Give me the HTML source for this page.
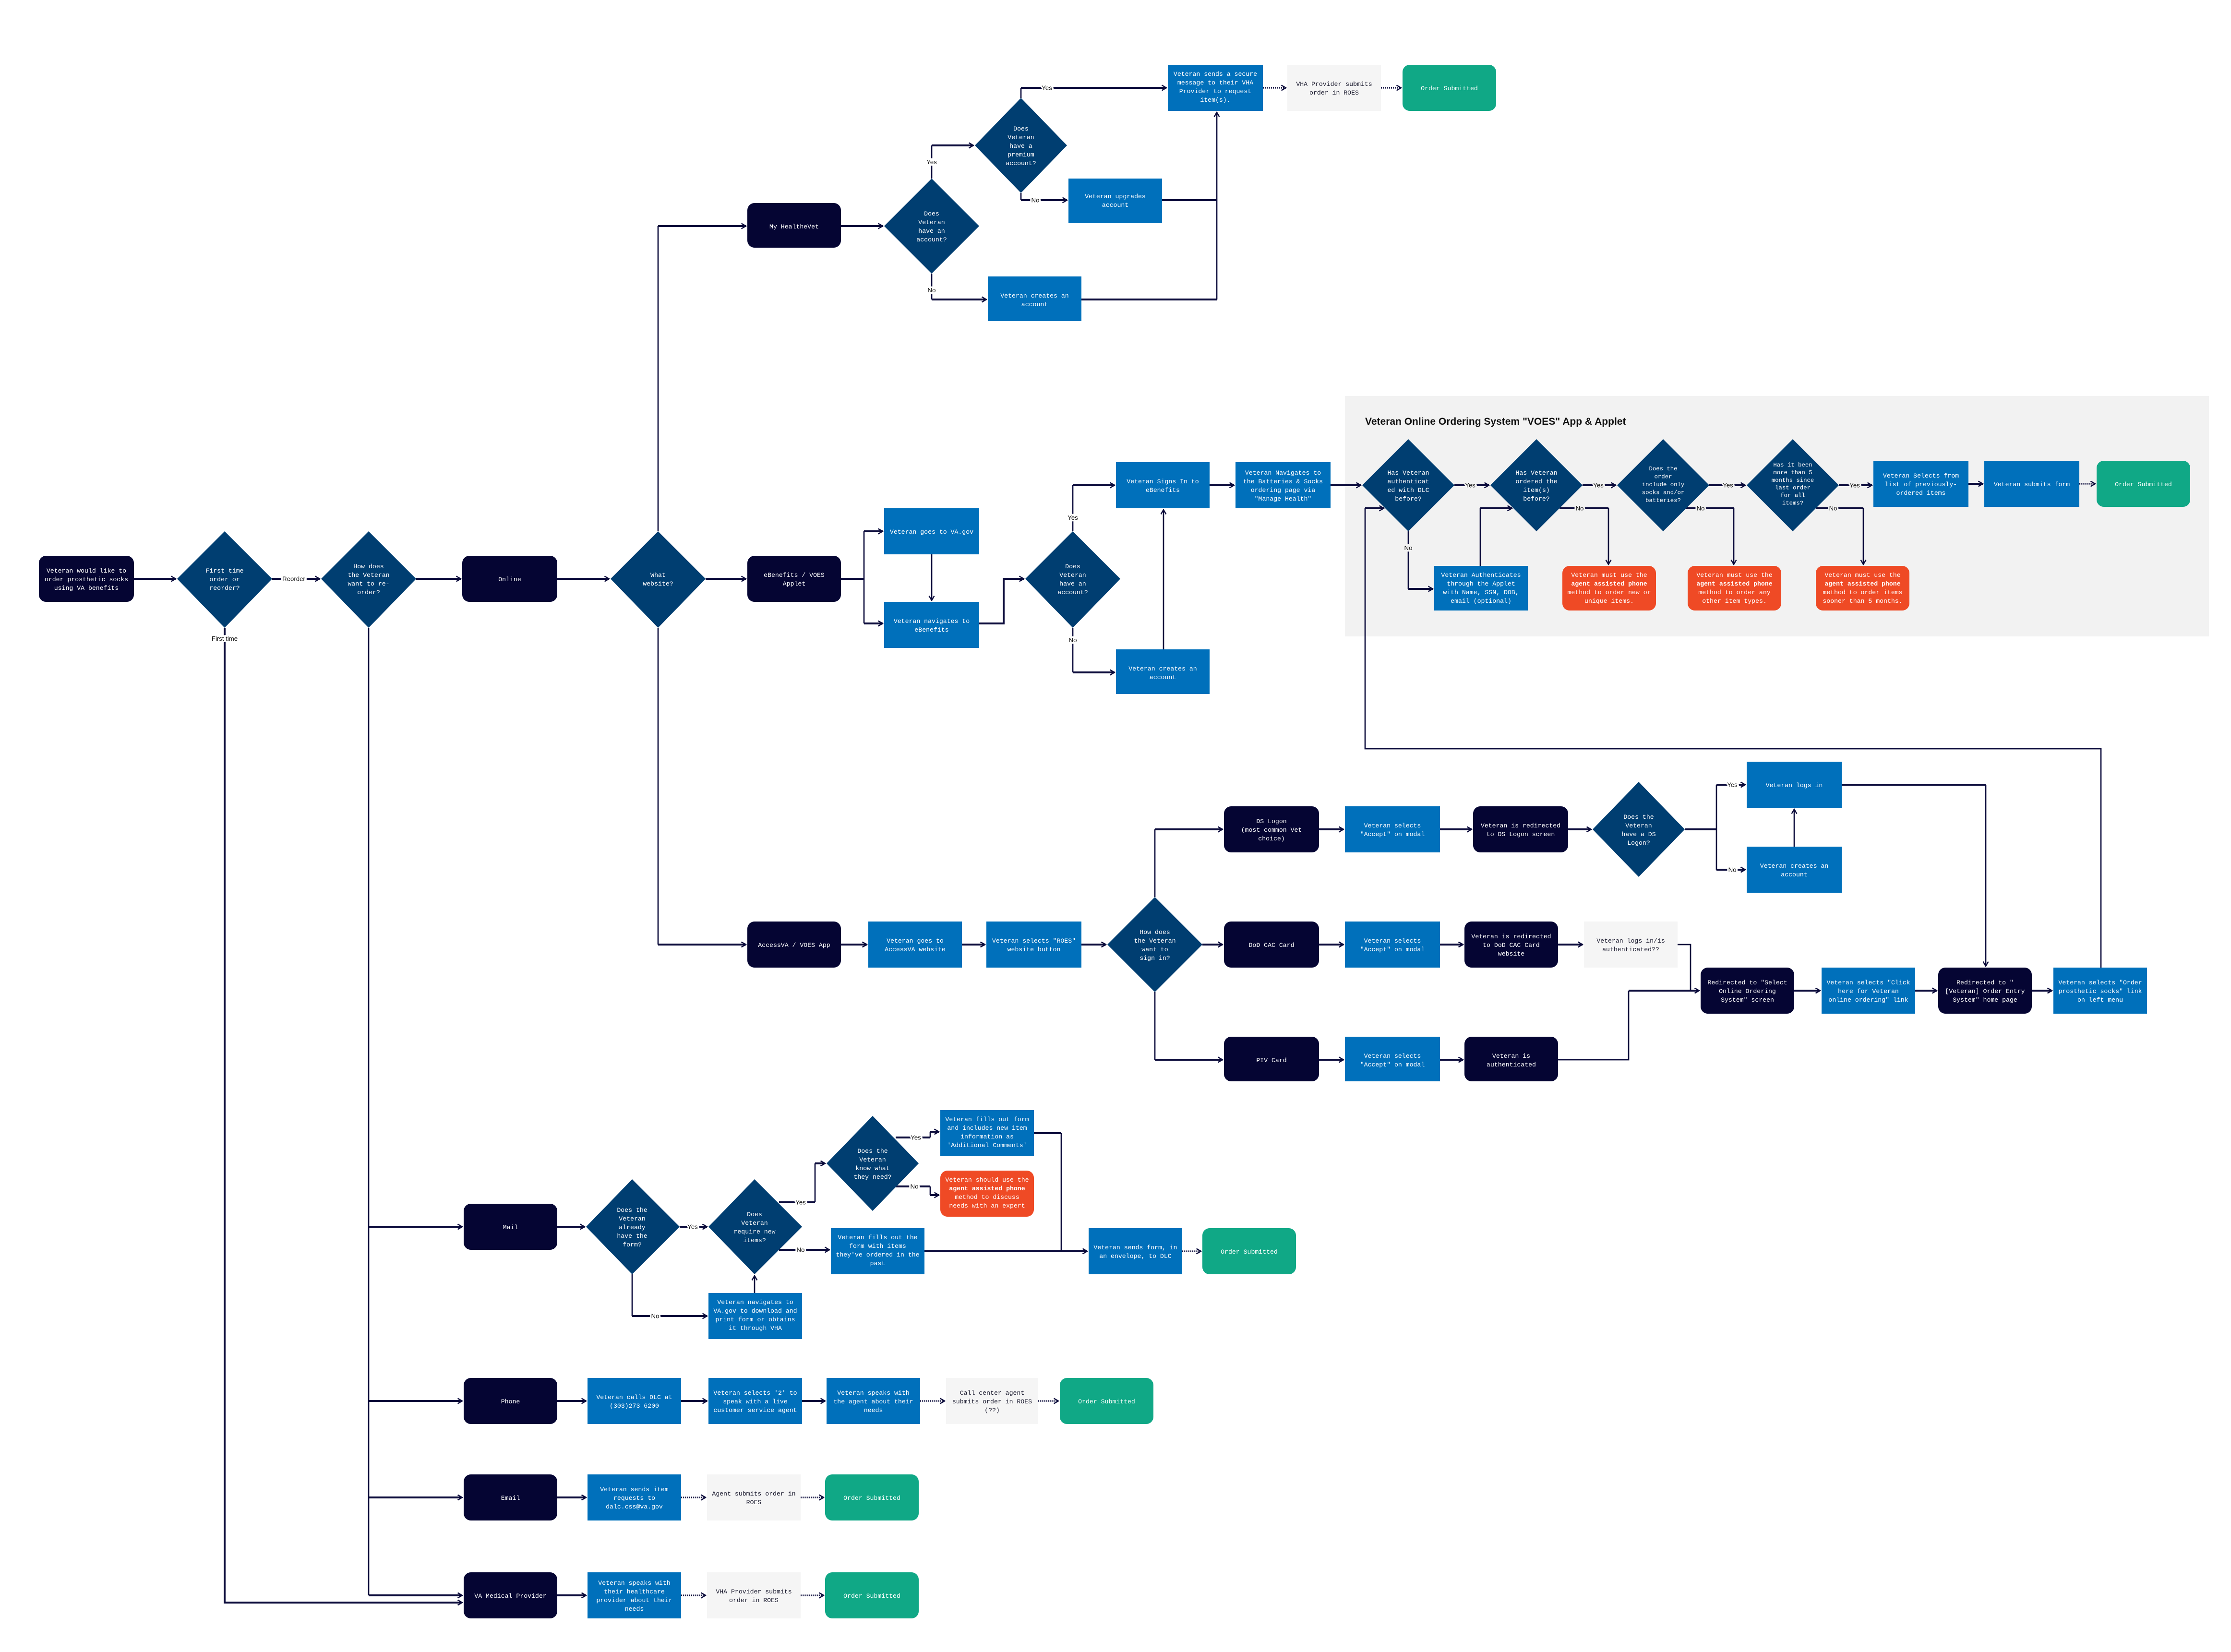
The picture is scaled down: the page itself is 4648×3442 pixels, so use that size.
<!DOCTYPE html>
<html><head><meta charset="utf-8"><style>
html,body{margin:0;padding:0;background:#fff;}
svg{display:block;}
.t{font-family:"Liberation Mono",monospace;font-size:4.4px;fill:#fff;text-anchor:middle;}
.k{fill:#1a1a2e;}
.b{font-weight:bold;}
.l{font-family:"Liberation Sans",sans-serif;font-size:4.4px;fill:#111;text-anchor:middle;stroke:#fff;stroke-width:2.2px;paint-order:stroke;}
.lp{stroke:#f2f2f2;}
.c{fill:none;stroke:#0b0b3b;stroke-width:0.9;}
.ct{fill:none;stroke:#0b0b3b;stroke-width:1.3;}
.dt{fill:none;stroke:#0b0b3b;stroke-width:1.1;stroke-dasharray:0.7 0.7;}
</style></head><body>
<svg width="4648" height="3442" viewBox="0 0 1549.33 1147.33" preserveAspectRatio="none" xmlns="http://www.w3.org/2000/svg">
<defs><marker id="a" viewBox="0 0 10 10" refX="9" refY="5" markerWidth="4.5" markerHeight="4.5" markerUnits="userSpaceOnUse" orient="auto"><path d="M2,1 L9,5 L2,9" fill="none" stroke="#0b0b3b" stroke-width="1.8"/></marker></defs>
<rect width="1549.33" height="1147.33" fill="#fff"/>
<!-- VOES panel -->
<rect x="934" y="275" width="600" height="167" fill="#f2f2f2"/>
<text x="948" y="295" font-family="Liberation Sans,sans-serif" font-size="7" font-weight="bold" fill="#111">Veteran Online Ordering System "VOES" App &amp; Applet</text>

<!-- connectors -->
<g>
<path class="ct" d="M93,402H122" marker-end="url(#a)"/>
<path class="ct" d="M189,402H222" marker-end="url(#a)"/>
<path class="ct" d="M289,402H320" marker-end="url(#a)"/>
<path class="ct" d="M387,402H423" marker-end="url(#a)"/>
<path class="ct" d="M156,436V1113H321" marker-end="url(#a)"/>
<path class="c" d="M256,436V1108"/>
<path class="ct" d="M256,852H321" marker-end="url(#a)"/>
<path class="ct" d="M256,973H321" marker-end="url(#a)"/>
<path class="ct" d="M256,1040H321" marker-end="url(#a)"/>
<path class="ct" d="M256,1108H321" marker-end="url(#a)"/>
<path class="c" d="M457,369V157"/><path class="ct" d="M457,157H518" marker-end="url(#a)"/>
<path class="ct" d="M490,402H518" marker-end="url(#a)"/>
<path class="c" d="M457,436V656"/><path class="ct" d="M457,656H518" marker-end="url(#a)"/>
<!-- MyHealtheVet -->
<path class="ct" d="M584,157H613" marker-end="url(#a)"/>
<path class="c" d="M647,124V101"/><path class="ct" d="M647,101H676" marker-end="url(#a)"/>
<path class="c" d="M709,68V61"/><path class="ct" d="M709,61H810" marker-end="url(#a)"/>
<path class="c" d="M709,134V139"/><path class="ct" d="M709,139H741" marker-end="url(#a)"/>
<path class="c" d="M647,190V208"/><path class="ct" d="M647,208H685" marker-end="url(#a)"/>
<path class="ct" d="M807,139H845"/><path class="ct" d="M751,208H845"/>
<path class="c" d="M845,208V78" marker-end="url(#a)"/>
<path class="dt" d="M877,61H893" marker-end="url(#a)"/>
<path class="dt" d="M959,61H973" marker-end="url(#a)"/>
<!-- eBenefits -->
<path class="ct" d="M584,402H600"/>
<path class="c" d="M600,369V433"/>
<path class="ct" d="M600,369H613" marker-end="url(#a)"/>
<path class="ct" d="M600,433H613" marker-end="url(#a)"/>
<path class="c" d="M647,385V417" marker-end="url(#a)"/>
<path class="ct" d="M680,433H697V402H711" marker-end="url(#a)"/>
<path class="c" d="M745,369V337"/><path class="ct" d="M745,337H774" marker-end="url(#a)"/>
<path class="c" d="M745,436V467"/><path class="ct" d="M745,467H774" marker-end="url(#a)"/>
<path class="c" d="M808,451V354" marker-end="url(#a)"/>
<path class="ct" d="M840,337H857" marker-end="url(#a)"/>
<path class="ct" d="M924,337H945" marker-end="url(#a)"/>
<!-- VOES -->
<path class="ct" d="M1010,337H1034" marker-end="url(#a)"/>
<path class="ct" d="M1099,337H1122" marker-end="url(#a)"/>
<path class="ct" d="M1187,337H1212" marker-end="url(#a)"/>
<path class="ct" d="M1277,337H1300" marker-end="url(#a)"/>
<path class="ct" d="M1367,336H1377" marker-end="url(#a)"/>
<path class="dt" d="M1444,336H1455" marker-end="url(#a)"/>
<path class="c" d="M978,369V409"/><path class="ct" d="M978,409H995" marker-end="url(#a)"/>
<path class="c" d="M1028,393V353"/><path class="ct" d="M1028,353H1050" marker-end="url(#a)"/>
<path class="ct" d="M1083,353H1117"/><path class="c" d="M1117,353V392" marker-end="url(#a)"/>
<path class="ct" d="M1171,353H1204"/><path class="c" d="M1204,353V392" marker-end="url(#a)"/>
<path class="ct" d="M1261,353H1294"/><path class="c" d="M1294,353V392" marker-end="url(#a)"/>
<path class="c" d="M1459,672V520H948V353"/><path class="ct" d="M948,353H961" marker-end="url(#a)"/>
<!-- AccessVA -->
<path class="ct" d="M584,656H602" marker-end="url(#a)"/>
<path class="ct" d="M668,656H684" marker-end="url(#a)"/>
<path class="ct" d="M751,656H768" marker-end="url(#a)"/>
<path class="c" d="M802,623V576"/><path class="ct" d="M802,576H849" marker-end="url(#a)"/>
<path class="ct" d="M835,656H849" marker-end="url(#a)"/>
<path class="c" d="M802,689V736"/><path class="ct" d="M802,736H849" marker-end="url(#a)"/>
<path class="ct" d="M916,576H933" marker-end="url(#a)"/>
<path class="ct" d="M916,656H933" marker-end="url(#a)"/>
<path class="ct" d="M916,736H933" marker-end="url(#a)"/>
<path class="ct" d="M1000,576H1022" marker-end="url(#a)"/>
<path class="ct" d="M1000,656H1016" marker-end="url(#a)"/>
<path class="ct" d="M1000,736H1016" marker-end="url(#a)"/>
<path class="ct" d="M1089,576H1105" marker-end="url(#a)"/>
<path class="ct" d="M1082,656H1099" marker-end="url(#a)"/>
<path class="ct" d="M1170,576H1192"/><path class="c" d="M1192,545V604"/>
<path class="ct" d="M1192,545H1212" marker-end="url(#a)"/>
<path class="ct" d="M1192,604H1212" marker-end="url(#a)"/>
<path class="c" d="M1246,588V562" marker-end="url(#a)"/>
<path class="ct" d="M1279,545H1379"/><path class="c" d="M1379,545V671" marker-end="url(#a)"/>
<path class="c" d="M1165,656H1174V688"/>
<path class="c" d="M1082,736H1131V688"/><path class="ct" d="M1131,688H1180" marker-end="url(#a)"/>
<path class="ct" d="M1246,688H1264" marker-end="url(#a)"/>
<path class="ct" d="M1330,688H1345" marker-end="url(#a)"/>
<path class="ct" d="M1411,688H1425" marker-end="url(#a)"/>
<!-- Mail -->
<path class="ct" d="M387,852H406" marker-end="url(#a)"/>
<path class="ct" d="M472,852H491" marker-end="url(#a)"/>
<path class="c" d="M439,885V914"/><path class="ct" d="M439,914H491" marker-end="url(#a)"/>
<path class="c" d="M524,898V886" marker-end="url(#a)"/>
<path class="ct" d="M541,835H566"/><path class="c" d="M566,835V808"/><path class="ct" d="M566,808H573" marker-end="url(#a)"/>
<path class="ct" d="M622,790H646"/><path class="c" d="M646,790V786"/><path class="ct" d="M646,786H652" marker-end="url(#a)"/>
<path class="ct" d="M622,824H646"/><path class="c" d="M646,824V830"/><path class="ct" d="M646,830H652" marker-end="url(#a)"/>
<path class="ct" d="M541,868H576" marker-end="url(#a)"/>
<path class="ct" d="M642,869H755" marker-end="url(#a)"/>
<path class="ct" d="M718,787H737"/><path class="c" d="M737,787V869"/>
<path class="dt" d="M821,869H834" marker-end="url(#a)"/>
<!-- Phone / Email / VA -->
<path class="ct" d="M387,973H407" marker-end="url(#a)"/>
<path class="ct" d="M473,973H491" marker-end="url(#a)"/>
<path class="ct" d="M557,973H573" marker-end="url(#a)"/>
<path class="dt" d="M639,973H656" marker-end="url(#a)"/>
<path class="dt" d="M721,973H735" marker-end="url(#a)"/>
<path class="ct" d="M387,1040H407" marker-end="url(#a)"/>
<path class="dt" d="M473,1040H490" marker-end="url(#a)"/>
<path class="dt" d="M556,1040H572" marker-end="url(#a)"/>
<path class="ct" d="M387,1108H407" marker-end="url(#a)"/>
<path class="dt" d="M473,1108H490" marker-end="url(#a)"/>
<path class="dt" d="M556,1108H572" marker-end="url(#a)"/>
</g>

<!-- labels -->
<text class="l" x="204" y="403.5">Reorder</text>
<text class="l" x="156" y="445">First time</text>
<text class="l" x="647" y="114">Yes</text>
<text class="l" x="727" y="62.5">Yes</text>
<text class="l" x="719" y="140.5">No</text>
<text class="l" x="647" y="203">No</text>
<text class="l" x="745" y="361">Yes</text>
<text class="l" x="745" y="446">No</text>
<text class="l lp" x="1021" y="338.5">Yes</text>
<text class="l lp" x="1110" y="338.5">Yes</text>
<text class="l lp" x="1200" y="338.5">Yes</text>
<text class="l lp" x="1288" y="338.5">Yes</text>
<text class="l lp" x="978" y="382">No</text>
<text class="l lp" x="1097" y="354.5">No</text>
<text class="l lp" x="1181" y="354.5">No</text>
<text class="l lp" x="1273" y="354.5">No</text>
<text class="l" x="1203" y="546.5">Yes</text>
<text class="l" x="1203" y="605.5">No</text>
<text class="l" x="481" y="853.5">Yes</text>
<text class="l" x="455" y="915.5">No</text>
<text class="l" x="556" y="836.5">Yes</text>
<text class="l" x="556" y="869.5">No</text>
<text class="l" x="636" y="791.5">Yes</text>
<text class="l" x="635" y="825.5">No</text>

<!-- dark rounded boxes -->
<g fill="#050533">
<rect x="27" y="386" width="66" height="32" rx="5"/>
<rect x="321" y="386" width="66" height="32" rx="5"/>
<rect x="519" y="141" width="65" height="31" rx="5"/>
<rect x="519" y="386" width="65" height="32" rx="5"/>
<rect x="519" y="640" width="65" height="32" rx="5"/>
<rect x="850" y="560" width="66" height="32" rx="5"/>
<rect x="850" y="640" width="66" height="32" rx="5"/>
<rect x="850" y="720" width="66" height="31" rx="5"/>
<rect x="1023" y="560" width="66" height="32" rx="5"/>
<rect x="1017" y="640" width="65" height="32" rx="5"/>
<rect x="1017" y="720" width="65" height="31" rx="5"/>
<rect x="1181" y="672" width="65" height="32" rx="5"/>
<rect x="1346" y="672" width="65" height="32" rx="5"/>
<rect x="322" y="836" width="65" height="32" rx="5"/>
<rect x="322" y="957" width="65" height="32" rx="5"/>
<rect x="322" y="1024" width="65" height="32" rx="5"/>
<rect x="322" y="1092" width="65" height="32" rx="5"/>
</g>
<!-- diamonds -->
<g fill="#003e71">
<polygon points="156,369 189,402 156,436 123,402"/>
<polygon points="256,369 289,402 256,436 223,402"/>
<polygon points="457,369 490,402 457,436 424,402"/>
<polygon points="647,124 680,157 647,190 614,157"/>
<polygon points="709,68 741,101 709,134 677,101"/>
<polygon points="745,369 778,402 745,436 712,402"/>
<polygon points="978,305 1010,337 978,369 946,337"/>
<polygon points="1067,305 1099,337 1067,369 1035,337"/>
<polygon points="1155,305 1187,337 1155,369 1123,337"/>
<polygon points="1245,305 1277,337 1245,369 1213,337"/>
<polygon points="802,623 835,656 802,689 769,656"/>
<polygon points="1138,543 1170,576 1138,609 1106,576"/>
<polygon points="439,819 472,852 439,885 407,852"/>
<polygon points="524,819 557,852 524,885 492,852"/>
<polygon points="606,775 638,808 606,841 574,808"/>
</g>
<!-- blue boxes -->
<g fill="#0070bb">
<rect x="811" y="45" width="66" height="32"/>
<rect x="742" y="124" width="65" height="31"/>
<rect x="686" y="192" width="65" height="31"/>
<rect x="614" y="353" width="66" height="32"/>
<rect x="614" y="418" width="66" height="32"/>
<rect x="775" y="321" width="65" height="32"/>
<rect x="775" y="451" width="65" height="31"/>
<rect x="858" y="321" width="66" height="32"/>
<rect x="996" y="393" width="65" height="31"/>
<rect x="1301" y="320" width="66" height="32"/>
<rect x="1378" y="320" width="66" height="32"/>
<rect x="603" y="640" width="65" height="32"/>
<rect x="685" y="640" width="66" height="32"/>
<rect x="934" y="560" width="66" height="32"/>
<rect x="934" y="640" width="66" height="32"/>
<rect x="934" y="720" width="66" height="31"/>
<rect x="1213" y="529" width="66" height="32"/>
<rect x="1213" y="588" width="66" height="32"/>
<rect x="1265" y="672" width="65" height="32"/>
<rect x="1426" y="672" width="65" height="32"/>
<rect x="653" y="771" width="65" height="32"/>
<rect x="577" y="853" width="65" height="32"/>
<rect x="492" y="898" width="65" height="32"/>
<rect x="756" y="853" width="65" height="32"/>
<rect x="408" y="957" width="65" height="32"/>
<rect x="492" y="957" width="65" height="32"/>
<rect x="574" y="957" width="65" height="32"/>
<rect x="408" y="1024" width="65" height="32"/>
<rect x="408" y="1092" width="65" height="32"/>
</g>
<!-- gray boxes -->
<g fill="#f5f5f5">
<rect x="894" y="45" width="65" height="32"/>
<rect x="1100" y="640" width="65" height="32"/>
<rect x="657" y="957" width="64" height="32"/>
<rect x="491" y="1024" width="65" height="32"/>
<rect x="491" y="1092" width="65" height="32"/>
</g>
<!-- green -->
<g fill="#10a886">
<rect x="974" y="45" width="65" height="32" rx="5"/>
<rect x="1456" y="320" width="65" height="32" rx="5"/>
<rect x="835" y="853" width="65" height="32" rx="5"/>
<rect x="736" y="957" width="65" height="32" rx="5"/>
<rect x="573" y="1024" width="65" height="32" rx="5"/>
<rect x="573" y="1092" width="65" height="32" rx="5"/>
</g>
<!-- orange -->
<g fill="#ef4a25">
<rect x="1085" y="393" width="65" height="31" rx="5"/>
<rect x="1172" y="393" width="65" height="31" rx="5"/>
<rect x="1261" y="393" width="65" height="31" rx="5"/>
<rect x="653" y="813" width="65" height="32" rx="5"/>
</g>

<!-- texts -->
<g class="t">
<text x="60" y="397.6"><tspan x="60">Veteran would like to</tspan><tspan x="60" dy="6">order prosthetic socks</tspan><tspan x="60" dy="6">using VA benefits</tspan></text>
<text x="156" y="397.6"><tspan x="156">First time</tspan><tspan x="156" dy="6">order or</tspan><tspan x="156" dy="6">reorder?</tspan></text>
<text x="256" y="394.6"><tspan x="256">How does</tspan><tspan x="256" dy="6">the Veteran</tspan><tspan x="256" dy="6">want to re-</tspan><tspan x="256" dy="6">order?</tspan></text>
<text x="354" y="403.6">Online</text>
<text x="457" y="400.6"><tspan x="457">What</tspan><tspan x="457" dy="6">website?</tspan></text>
<text x="551.5" y="158.6">My HealtheVet</text>
<text x="647" y="149.6"><tspan x="647">Does</tspan><tspan x="647" dy="6">Veteran</tspan><tspan x="647" dy="6">have an</tspan><tspan x="647" dy="6">account?</tspan></text>
<text x="709" y="90.6"><tspan x="709">Does</tspan><tspan x="709" dy="6">Veteran</tspan><tspan x="709" dy="6">have a</tspan><tspan x="709" dy="6">premium</tspan><tspan x="709" dy="6">account?</tspan></text>
<text x="844" y="52.6"><tspan x="844">Veteran sends a secure</tspan><tspan x="844" dy="6">message to their VHA</tspan><tspan x="844" dy="6">Provider to request</tspan><tspan x="844" dy="6">item(s).</tspan></text>
<text x="774.5" y="137.6"><tspan x="774.5">Veteran upgrades</tspan><tspan x="774.5" dy="6">account</tspan></text>
<text x="718.5" y="206.6"><tspan x="718.5">Veteran creates an</tspan><tspan x="718.5" dy="6">account</tspan></text>
<text x="1006.5" y="62.6">Order Submitted</text>
<text x="551.5" y="400.6"><tspan x="551.5">eBenefits / VOES</tspan><tspan x="551.5" dy="6">Applet</tspan></text>
<text x="647" y="370.6">Veteran goes to VA.gov</text>
<text x="647" y="432.6"><tspan x="647">Veteran navigates to</tspan><tspan x="647" dy="6">eBenefits</tspan></text>
<text x="745" y="394.6"><tspan x="745">Does</tspan><tspan x="745" dy="6">Veteran</tspan><tspan x="745" dy="6">have an</tspan><tspan x="745" dy="6">account?</tspan></text>
<text x="807.5" y="335.6"><tspan x="807.5">Veteran Signs In to</tspan><tspan x="807.5" dy="6">eBenefits</tspan></text>
<text x="807.5" y="465.6"><tspan x="807.5">Veteran creates an</tspan><tspan x="807.5" dy="6">account</tspan></text>
<text x="891" y="329.6"><tspan x="891">Veteran Navigates to</tspan><tspan x="891" dy="6">the Batteries &amp; Socks</tspan><tspan x="891" dy="6">ordering page via</tspan><tspan x="891" dy="6">"Manage Health"</tspan></text>
<text x="978" y="329.6"><tspan x="978">Has Veteran</tspan><tspan x="978" dy="6">authenticat</tspan><tspan x="978" dy="6">ed with DLC</tspan><tspan x="978" dy="6">before?</tspan></text>
<text x="1067" y="329.6"><tspan x="1067">Has Veteran</tspan><tspan x="1067" dy="6">ordered the</tspan><tspan x="1067" dy="6">item(s)</tspan><tspan x="1067" dy="6">before?</tspan></text>
<text x="1155" y="326.6" font-size="4.1"><tspan x="1155">Does the</tspan><tspan x="1155" dy="5.5">order</tspan><tspan x="1155" dy="5.5">include only</tspan><tspan x="1155" dy="5.5">socks and/or</tspan><tspan x="1155" dy="5.5">batteries?</tspan></text>
<text x="1245" y="324" font-size="4.1"><tspan x="1245">Has it been</tspan><tspan x="1245" dy="5.3">more than 5</tspan><tspan x="1245" dy="5.3">months since</tspan><tspan x="1245" dy="5.3">last order</tspan><tspan x="1245" dy="5.3">for all</tspan><tspan x="1245" dy="5.3">items?</tspan></text>
<text x="1334" y="331.6"><tspan x="1334">Veteran Selects from</tspan><tspan x="1334" dy="6">list of previously-</tspan><tspan x="1334" dy="6">ordered items</tspan></text>
<text x="1411" y="337.6">Veteran submits form</text>
<text x="1488.5" y="337.6">Order Submitted</text>
<text x="1028.5" y="400.6"><tspan x="1028.5">Veteran Authenticates</tspan><tspan x="1028.5" dy="6">through the Applet</tspan><tspan x="1028.5" dy="6">with Name, SSN, DOB,</tspan><tspan x="1028.5" dy="6">email (optional)</tspan></text>
<text x="1117.5" y="400.6"><tspan x="1117.5">Veteran must use the</tspan><tspan x="1117.5" dy="6" class="b">agent assisted phone</tspan><tspan x="1117.5" dy="6">method to order new or</tspan><tspan x="1117.5" dy="6">unique items.</tspan></text>
<text x="1204.5" y="400.6"><tspan x="1204.5">Veteran must use the</tspan><tspan x="1204.5" dy="6" class="b">agent assisted phone</tspan><tspan x="1204.5" dy="6">method to order any</tspan><tspan x="1204.5" dy="6">other item types.</tspan></text>
<text x="1293.5" y="400.6"><tspan x="1293.5">Veteran must use the</tspan><tspan x="1293.5" dy="6" class="b">agent assisted phone</tspan><tspan x="1293.5" dy="6">method to order items</tspan><tspan x="1293.5" dy="6">sooner than 5 months.</tspan></text>
<text x="551.5" y="657.6">AccessVA / VOES App</text>
<text x="635.5" y="654.6"><tspan x="635.5">Veteran goes to</tspan><tspan x="635.5" dy="6">AccessVA website</tspan></text>
<text x="718" y="654.6"><tspan x="718">Veteran selects "ROES"</tspan><tspan x="718" dy="6">website button</tspan></text>
<text x="802" y="648.6"><tspan x="802">How does</tspan><tspan x="802" dy="6">the Veteran</tspan><tspan x="802" dy="6">want to</tspan><tspan x="802" dy="6">sign in?</tspan></text>
<text x="883" y="571.6"><tspan x="883">DS Logon</tspan><tspan x="883" dy="6">(most common Vet</tspan><tspan x="883" dy="6">choice)</tspan></text>
<text x="883" y="657.6">DoD CAC Card</text>
<text x="883" y="737.6">PIV Card</text>
<text x="967" y="574.6"><tspan x="967">Veteran selects</tspan><tspan x="967" dy="6">"Accept" on modal</tspan></text>
<text x="967" y="654.6"><tspan x="967">Veteran selects</tspan><tspan x="967" dy="6">"Accept" on modal</tspan></text>
<text x="967" y="734.6"><tspan x="967">Veteran selects</tspan><tspan x="967" dy="6">"Accept" on modal</tspan></text>
<text x="1056" y="574.6"><tspan x="1056">Veteran is redirected</tspan><tspan x="1056" dy="6">to DS Logon screen</tspan></text>
<text x="1049.5" y="651.6"><tspan x="1049.5">Veteran is redirected</tspan><tspan x="1049.5" dy="6">to DoD CAC Card</tspan><tspan x="1049.5" dy="6">website</tspan></text>
<text x="1049.5" y="734.6"><tspan x="1049.5">Veteran is</tspan><tspan x="1049.5" dy="6">authenticated</tspan></text>
<text x="1138" y="568.6"><tspan x="1138">Does the</tspan><tspan x="1138" dy="6">Veteran</tspan><tspan x="1138" dy="6">have a DS</tspan><tspan x="1138" dy="6">Logon?</tspan></text>
<text x="1246" y="546.6">Veteran logs in</text>
<text x="1246" y="602.6"><tspan x="1246">Veteran creates an</tspan><tspan x="1246" dy="6">account</tspan></text>
<text x="1213.5" y="683.6"><tspan x="1213.5">Redirected to "Select</tspan><tspan x="1213.5" dy="6">Online Ordering</tspan><tspan x="1213.5" dy="6">System" screen</tspan></text>
<text x="1297.5" y="683.6"><tspan x="1297.5">Veteran selects "Click</tspan><tspan x="1297.5" dy="6">here for Veteran</tspan><tspan x="1297.5" dy="6">online ordering" link</tspan></text>
<text x="1378.5" y="683.6"><tspan x="1378.5">Redirected to "</tspan><tspan x="1378.5" dy="6">[Veteran] Order Entry</tspan><tspan x="1378.5" dy="6">System" home page</tspan></text>
<text x="1458.5" y="683.6"><tspan x="1458.5">Veteran selects "Order</tspan><tspan x="1458.5" dy="6">prosthetic socks" link</tspan><tspan x="1458.5" dy="6">on left menu</tspan></text>
<text x="354.5" y="853.6">Mail</text>
<text x="439" y="841.6"><tspan x="439">Does the</tspan><tspan x="439" dy="6">Veteran</tspan><tspan x="439" dy="6">already</tspan><tspan x="439" dy="6">have the</tspan><tspan x="439" dy="6">form?</tspan></text>
<text x="524" y="844.6"><tspan x="524">Does</tspan><tspan x="524" dy="6">Veteran</tspan><tspan x="524" dy="6">require new</tspan><tspan x="524" dy="6">items?</tspan></text>
<text x="606" y="800.6"><tspan x="606">Does the</tspan><tspan x="606" dy="6">Veteran</tspan><tspan x="606" dy="6">know what</tspan><tspan x="606" dy="6">they need?</tspan></text>
<text x="685.5" y="778.6"><tspan x="685.5">Veteran fills out form</tspan><tspan x="685.5" dy="6">and includes new item</tspan><tspan x="685.5" dy="6">information as</tspan><tspan x="685.5" dy="6">'Additional Comments'</tspan></text>
<text x="685.5" y="820.6"><tspan x="685.5">Veteran should use the</tspan><tspan x="685.5" dy="6" class="b">agent assisted phone</tspan><tspan x="685.5" dy="6">method to discuss</tspan><tspan x="685.5" dy="6">needs with an expert</tspan></text>
<text x="609.5" y="860.6"><tspan x="609.5">Veteran fills out the</tspan><tspan x="609.5" dy="6">form with items</tspan><tspan x="609.5" dy="6">they've ordered in the</tspan><tspan x="609.5" dy="6">past</tspan></text>
<text x="524.5" y="905.6"><tspan x="524.5">Veteran navigates to</tspan><tspan x="524.5" dy="6">VA.gov to download and</tspan><tspan x="524.5" dy="6">print form or obtains</tspan><tspan x="524.5" dy="6">it through VHA</tspan></text>
<text x="788.5" y="867.6"><tspan x="788.5">Veteran sends form, in</tspan><tspan x="788.5" dy="6">an envelope, to DLC</tspan></text>
<text x="867.5" y="870.6">Order Submitted</text>
<text x="354.5" y="974.6">Phone</text>
<text x="440.5" y="971.6"><tspan x="440.5">Veteran calls DLC at</tspan><tspan x="440.5" dy="6">(303)273-6200</tspan></text>
<text x="524.5" y="968.6"><tspan x="524.5">Veteran selects '2' to</tspan><tspan x="524.5" dy="6">speak with a live</tspan><tspan x="524.5" dy="6">customer service agent</tspan></text>
<text x="606.5" y="968.6"><tspan x="606.5">Veteran speaks with</tspan><tspan x="606.5" dy="6">the agent about their</tspan><tspan x="606.5" dy="6">needs</tspan></text>
<text x="768.5" y="974.6">Order Submitted</text>
<text x="354.5" y="1041.6">Email</text>
<text x="440.5" y="1035.6"><tspan x="440.5">Veteran sends item</tspan><tspan x="440.5" dy="6">requests to</tspan><tspan x="440.5" dy="6">dalc.css@va.gov</tspan></text>
<text x="605.5" y="1041.6">Order Submitted</text>
<text x="354.5" y="1109.6">VA Medical Provider</text>
<text x="440.5" y="1100.6"><tspan x="440.5">Veteran speaks with</tspan><tspan x="440.5" dy="6">their healthcare</tspan><tspan x="440.5" dy="6">provider about their</tspan><tspan x="440.5" dy="6">needs</tspan></text>
<text x="605.5" y="1109.6">Order Submitted</text>
</g>
<g class="t k">
<text x="926.5" y="59.6"><tspan x="926.5">VHA Provider submits</tspan><tspan x="926.5" dy="6">order in ROES</tspan></text>
<text x="1132.5" y="654.6"><tspan x="1132.5">Veteran logs in/is</tspan><tspan x="1132.5" dy="6">authenticated??</tspan></text>
<text x="689" y="968.6"><tspan x="689">Call center agent</tspan><tspan x="689" dy="6">submits order in ROES</tspan><tspan x="689" dy="6">(??)</tspan></text>
<text x="523.5" y="1038.6"><tspan x="523.5">Agent submits order in</tspan><tspan x="523.5" dy="6">ROES</tspan></text>
<text x="523.5" y="1106.6"><tspan x="523.5">VHA Provider submits</tspan><tspan x="523.5" dy="6">order in ROES</tspan></text>
</g>
</svg>
</body></html>
